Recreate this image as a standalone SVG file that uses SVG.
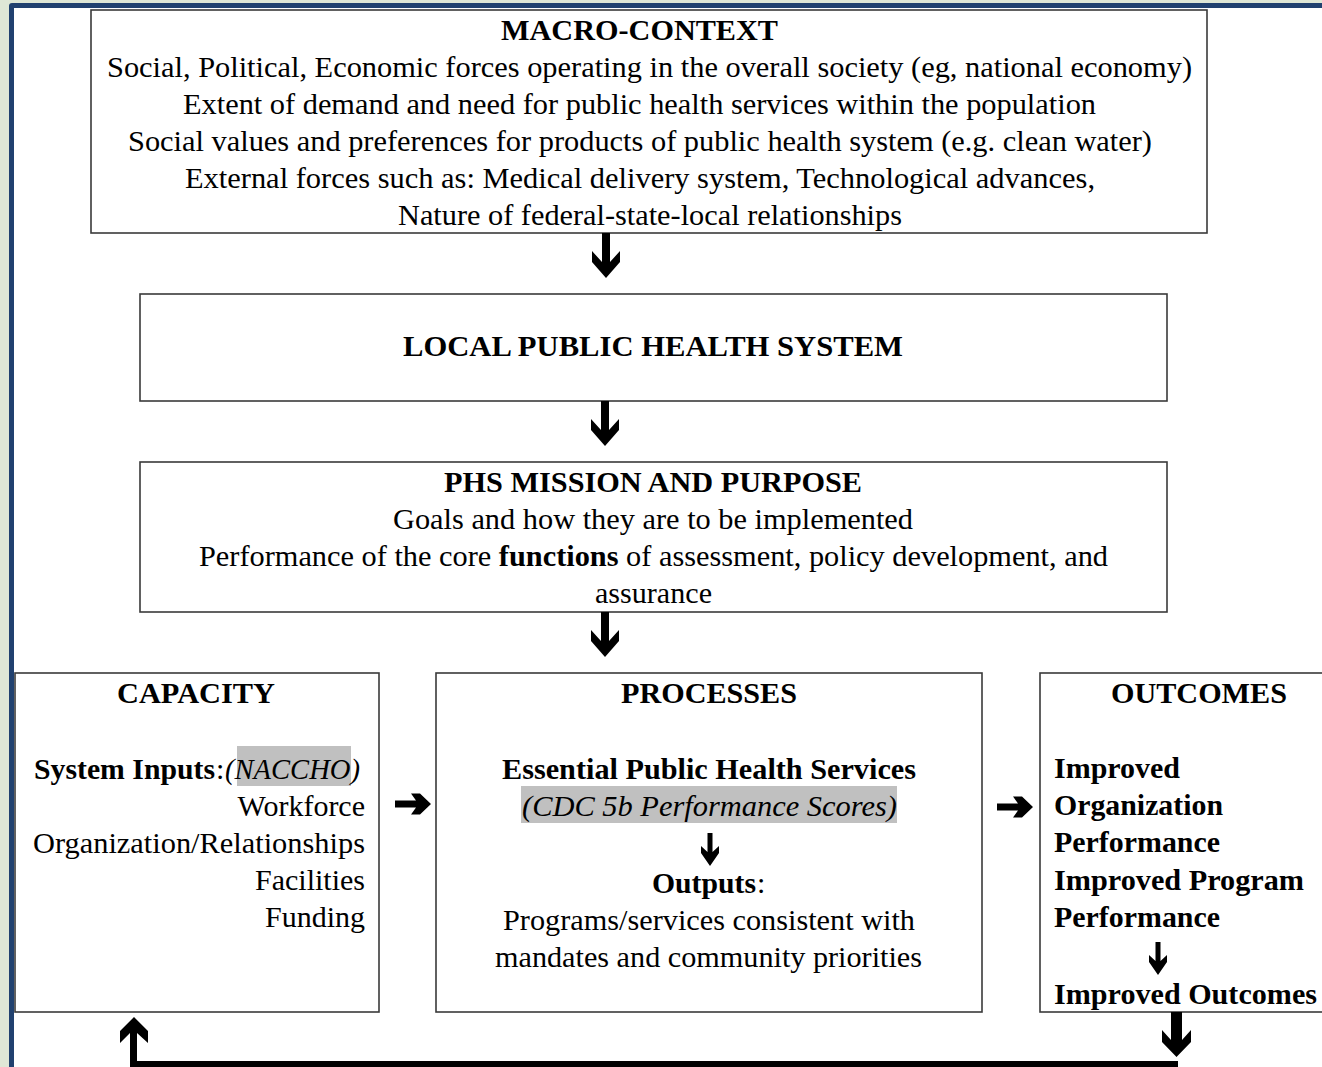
<svg xmlns="http://www.w3.org/2000/svg" width="1322" height="1067" viewBox="0 0 1322 1067">
<style>
  .box { fill: #ffffff; stroke: #3a3a3a; stroke-width: 1.6; }
  text { font-family: "Liberation Serif", "Times New Roman", serif; font-size: 30px; fill: #000; }
  .b { font-weight: bold; }
  .i { font-style: italic; }
  .mid { text-anchor: middle; }
  .end { text-anchor: end; }
  .hl { fill: #c0c0c0; }
  .arr { fill: #000; }
</style>
<defs>
  <path id="bigdown" d="M-4,0 H4 V29 L14,18 V29 L0,45 L-14,29 V18 L-4,29 Z"/>
  <path id="smalldown" d="M-2.5,0 H2.5 V19 L9,13 V20 L0,33 L-9,20 V13 L-2.5,19 Z"/>
  <path id="rarr" d="M0,-3.5 H21 L16,-10.5 H25 L36,0 L25,10.5 H16 L21,3.5 H0 Z"/>
</defs>

<!-- page frame -->
<rect x="0" y="0" width="1322" height="1067" fill="#dfe7d6"/>
<rect x="9" y="3" width="1330" height="1080" rx="3" fill="#21416f"/>
<rect x="14" y="8" width="1330" height="1080" fill="#ffffff"/>

<g id="macro-context">
  <rect class="box" x="91" y="10" width="1116" height="223"/>
  <text class="b" x="501" y="40" textLength="277" lengthAdjust="spacingAndGlyphs">MACRO-CONTEXT</text>
  <text x="107" y="77" textLength="1085" lengthAdjust="spacingAndGlyphs">Social, Political, Economic forces operating in the overall society (eg, national economy)</text>
  <text x="183" y="114" textLength="913" lengthAdjust="spacingAndGlyphs">Extent of demand and need for public health services within the population</text>
  <text x="128" y="151" textLength="1024" lengthAdjust="spacingAndGlyphs">Social values and preferences for products of public health system (e.g. clean water)</text>
  <text x="185" y="188" textLength="910" lengthAdjust="spacingAndGlyphs">External forces such as: Medical delivery system, Technological advances,</text>
  <text x="398" y="225" textLength="504" lengthAdjust="spacingAndGlyphs">Nature of federal-state-local relationships</text>
</g>

<g id="local-system">
  <rect class="box" x="140" y="294" width="1027" height="107"/>
  <text class="b" x="403" y="356" textLength="500" lengthAdjust="spacingAndGlyphs">LOCAL PUBLIC HEALTH SYSTEM</text>
</g>

<g id="phs-mission">
  <rect class="box" x="140" y="462" width="1027" height="150"/>
  <text class="b" x="444" y="492" textLength="418" lengthAdjust="spacingAndGlyphs">PHS MISSION AND PURPOSE</text>
  <text x="393" y="529" textLength="520" lengthAdjust="spacingAndGlyphs">Goals and how they are to be implemented</text>
  <text x="199" y="566" textLength="909" lengthAdjust="spacingAndGlyphs">Performance of the core <tspan class="b">functions</tspan> of assessment, policy development, and</text>
  <text x="595" y="603" textLength="117" lengthAdjust="spacingAndGlyphs">assurance</text>
</g>

<g id="capacity">
  <rect class="box" x="15" y="673" width="364" height="339"/>
  <text class="b" x="117" y="703" textLength="158" lengthAdjust="spacingAndGlyphs">CAPACITY</text>
  <rect class="hl" x="237" y="746" width="114" height="40"/>
  <text class="b" x="34" y="779" textLength="181" lengthAdjust="spacingAndGlyphs">System Inputs</text>
  <text x="216" y="779">:</text>
  <text class="i" x="225" y="779" textLength="135" lengthAdjust="spacingAndGlyphs">(NACCHO)</text>
  <text class="end" x="365" y="816">Workforce</text>
  <text x="33" y="853" textLength="332" lengthAdjust="spacingAndGlyphs">Organization/Relationships</text>
  <text class="end" x="365" y="890">Facilities</text>
  <text class="end" x="365" y="927">Funding</text>
</g>

<g id="processes">
  <rect class="box" x="436" y="673" width="546" height="339"/>
  <text class="b" x="621" y="703" textLength="176" lengthAdjust="spacingAndGlyphs">PROCESSES</text>
  <text class="b" x="502" y="779" textLength="414" lengthAdjust="spacingAndGlyphs">Essential Public Health Services</text>
  <rect class="hl" x="521" y="786" width="376" height="37"/>
  <text class="i" x="522" y="816" textLength="375" lengthAdjust="spacingAndGlyphs">(CDC 5b Performance Scores)</text>
  <text class="b" x="652" y="893" textLength="104" lengthAdjust="spacingAndGlyphs">Outputs</text>
  <text x="757" y="893">:</text>
  <text x="503" y="930" textLength="412" lengthAdjust="spacingAndGlyphs">Programs/services consistent with</text>
  <text x="495" y="967" textLength="427" lengthAdjust="spacingAndGlyphs">mandates and community priorities</text>
</g>

<g id="outcomes">
  <rect class="box" x="1040" y="673" width="300" height="339"/>
  <text class="b" x="1111" y="703" textLength="176" lengthAdjust="spacingAndGlyphs">OUTCOMES</text>
  <text class="b" x="1054" y="778" textLength="126" lengthAdjust="spacingAndGlyphs">Improved</text>
  <text class="b" x="1054" y="815" textLength="169" lengthAdjust="spacingAndGlyphs">Organization</text>
  <text class="b" x="1054" y="852" textLength="166" lengthAdjust="spacingAndGlyphs">Performance</text>
  <text class="b" x="1054" y="890" textLength="250" lengthAdjust="spacingAndGlyphs">Improved Program</text>
  <text class="b" x="1054" y="927" textLength="166" lengthAdjust="spacingAndGlyphs">Performance</text>
  <text class="b" x="1054" y="1004" textLength="263" lengthAdjust="spacingAndGlyphs">Improved Outcomes</text>
</g>

<g id="connectors" class="arr">
  <use href="#bigdown" x="606" y="233"/>
  <use href="#bigdown" x="605" y="401"/>
  <use href="#bigdown" x="605" y="612"/>
  <use href="#rarr" x="395" y="804"/>
  <use href="#rarr" x="997" y="807"/>
  <use href="#smalldown" x="710" y="833"/>
  <use href="#smalldown" x="1158" y="942"/>
  <path d="M1171,1012 H1182 V1040 L1191,1030 V1042 L1176.5,1057 L1162,1042 V1030 L1171,1040 Z"/>
  <rect x="130" y="1061" width="1048" height="8"/>
  <path d="M130,1067 V1033 L120,1043 V1031 L134,1017 L148,1031 V1043 L137,1033 V1067 Z"/>
</g>
</svg>
